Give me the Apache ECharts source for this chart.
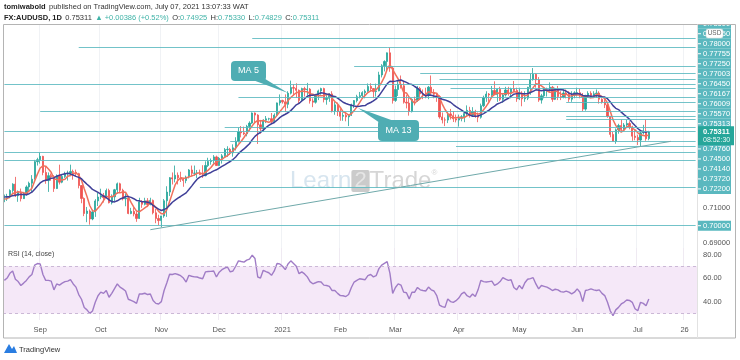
<!DOCTYPE html>
<html><head><meta charset="utf-8">
<script src="https://cdn.jsdelivr.net/npm/echarts@6/dist/echarts.min.js"></script>
<style>html,body{margin:0;padding:0;background:#fff}#c{width:740px;height:360px}</style>
</head><body><div id="c"></div>
<script>
// ---------- DATA ----------
const startDate = '2020-08-13';
const totalBars = 252; // trading days shown incl. empty future space
const warmupCloses = [0.7150,0.7187,0.7163,0.7142,0.7130,0.7149,0.7195,0.7233,0.7160,0.7150,0.7140,0.7148];
// [open, high, low, close]
const candles = [
[0.7155,0.7176,0.7133,0.7160],[0.7160,0.7180,0.7140,0.7166],[0.7166,0.7206,0.7155,0.7199],[0.7199,0.7240,0.7186,0.7235],
[0.7235,0.7276,0.7162,0.7169],[0.7169,0.7199,0.7135,0.7190],[0.7190,0.7210,0.7137,0.7153],[0.7153,0.7191,0.7151,0.7182],
[0.7182,0.7228,0.7170,0.7219],[0.7219,0.7249,0.7191,0.7240],[0.7240,0.7286,0.7191,0.7263],[0.7263,0.7372,0.7262,0.7362],
[0.7362,0.7384,0.7340,0.7373],
[0.7373,0.7414,0.7351,0.7392],[0.7392,0.7395,0.7285,0.7301],[0.7301,0.7332,0.7237,0.7255],[0.7255,0.7301,0.7191,0.7283],
[0.7283,0.7295,0.7254,0.7277],[0.7277,0.7286,0.7191,0.7210],[0.7210,0.7290,0.7208,0.7283],[0.7283,0.7345,0.7233,0.7246],
[0.7246,0.7292,0.7240,0.7278],[0.7278,0.7305,0.7270,0.7293],[0.7293,0.7311,0.7255,0.7298],[0.7298,0.7345,0.7280,0.7306],
[0.7306,0.7317,0.7260,0.7302],[0.7302,0.7317,0.7280,0.7294],[0.7294,0.7299,0.7211,0.7227],[0.7227,0.7230,0.7127,0.7154],
[0.7154,0.7160,0.7054,0.7069],[0.7069,0.7106,0.7020,0.7083],[0.7083,0.7092,0.7006,0.7038],[0.7038,0.7091,0.7031,0.7078],
[0.7078,0.7150,0.7050,0.7140],[0.7140,0.7185,0.7111,0.7162],
[0.7162,0.7209,0.7150,0.7169],[0.7169,0.7185,0.7131,0.7159],[0.7159,0.7210,0.7153,0.7199],[0.7199,0.7209,0.7126,0.7130],
[0.7130,0.7177,0.7120,0.7163],[0.7163,0.7208,0.7137,0.7203],[0.7203,0.7244,0.7180,0.7237],[0.7237,0.7243,0.7187,0.7200],
[0.7200,0.7209,0.7143,0.7152],[0.7152,0.7183,0.7110,0.7156],[0.7156,0.7162,0.7065,0.7069],[0.7069,0.7101,0.7065,0.7081],
[0.7081,0.7105,0.7053,0.7066],[0.7066,0.7081,0.7022,0.7041],[0.7041,0.7158,0.7038,0.7135],[0.7135,0.7145,0.7101,0.7121],
[0.7121,0.7158,0.7115,0.7141],[0.7141,0.7156,0.7105,0.7120],[0.7120,0.7158,0.7115,0.7143],[0.7143,0.7148,0.7064,0.7073],
[0.7073,0.7096,0.7014,0.7041],[0.7041,0.7062,0.7002,0.7029],
[0.7029,0.7056,0.6991,0.7055],[0.7055,0.7151,0.7045,0.7141],[0.7141,0.7223,0.7050,0.7190],[0.7190,0.7275,0.7168,0.7271],
[0.7271,0.7301,0.7233,0.7264],[0.7264,0.7340,0.7245,0.7285],[0.7285,0.7301,0.7233,0.7271],[0.7271,0.7305,0.7247,0.7263],
[0.7263,0.7270,0.7220,0.7255],[0.7255,0.7283,0.7240,0.7275],[0.7275,0.7320,0.7267,0.7315],[0.7315,0.7340,0.7280,0.7296],
[0.7296,0.7340,0.7282,0.7297],[0.7297,0.7315,0.7270,0.7297],[0.7297,0.7317,0.7286,0.7289],[0.7289,0.7342,0.7270,0.7283],
[0.7283,0.7364,0.7279,0.7340],[0.7340,0.7384,0.7332,0.7363],[0.7363,0.7380,0.7345,0.7368],[0.7368,0.7399,0.7350,0.7389],
[0.7389,0.7396,0.7340,0.7340],
[0.7340,0.7388,0.7339,0.7381],[0.7381,0.7405,0.7351,0.7395],[0.7395,0.7439,0.7389,0.7430],[0.7430,0.7449,0.7389,0.7432],
[0.7432,0.7440,0.7400,0.7412],[0.7412,0.7460,0.7390,0.7440],[0.7440,0.7500,0.7425,0.7478],[0.7478,0.7555,0.7470,0.7530],
[0.7530,0.7563,0.7499,0.7525],[0.7525,0.7560,0.7512,0.7519],[0.7519,0.7570,0.7505,0.7561],[0.7561,0.7590,0.7536,0.7580],
[0.7580,0.7640,0.7575,0.7637],[0.7637,0.7640,0.7582,0.7625],[0.7625,0.7630,0.7462,0.7570],[0.7570,0.7598,0.7520,0.7548],
[0.7548,0.7602,0.7530,0.7596],[0.7596,0.7620,0.7580,0.7604],[0.7604,0.7610,0.7595,0.7605],[0.7605,0.7637,0.7575,0.7589],
[0.7589,0.7635,0.7580,0.7625],[0.7625,0.7696,0.7620,0.7694],[0.7694,0.7742,0.7679,0.7708],
[0.7708,0.7712,0.7690,0.7700],[0.7700,0.7742,0.7642,0.7686],[0.7686,0.7760,0.7664,0.7749],[0.7749,0.7820,0.7742,0.7781],
[0.7781,0.7800,0.7735,0.7777],[0.7777,0.7805,0.7722,0.7765],[0.7765,0.7770,0.7693,0.7708],[0.7708,0.7780,0.7705,0.7775],
[0.7775,0.7785,0.7730,0.7768],[0.7768,0.7807,0.7737,0.7772],[0.7772,0.7778,0.7690,0.7705],[0.7705,0.7720,0.7670,0.7698],
[0.7698,0.7745,0.7690,0.7734],[0.7734,0.7769,0.7710,0.7762],[0.7762,0.7780,0.7740,0.7775],[0.7775,0.7780,0.7697,0.7713],
[0.7713,0.7738,0.7684,0.7720],[0.7720,0.7750,0.7700,0.7745],[0.7745,0.7760,0.7640,0.7649],[0.7649,0.7700,0.7627,0.7683],
[0.7683,0.7696,0.7620,0.7645],
[0.7645,0.7660,0.7593,0.7618],[0.7618,0.7640,0.7593,0.7624],[0.7624,0.7640,0.7590,0.7615],[0.7615,0.7628,0.7563,0.7624],
[0.7624,0.7690,0.7620,0.7683],[0.7683,0.7710,0.7665,0.7707],[0.7707,0.7740,0.7697,0.7729],[0.7729,0.7756,0.7719,0.7735],
[0.7735,0.7760,0.7720,0.7752],[0.7752,0.7770,0.7720,0.7760],[0.7760,0.7804,0.7756,0.7787],[0.7787,0.7805,0.7760,0.7775],
[0.7775,0.7778,0.7721,0.7758],[0.7758,0.7803,0.7730,0.7762],[0.7762,0.7870,0.7760,0.7852],[0.7852,0.7913,0.7838,0.7904],
[0.7904,0.7935,0.7872,0.7928],[0.7928,0.7979,0.7880,0.7977],[0.7977,0.8007,0.7870,0.7891],[0.7891,0.7901,0.7690,0.7708],
[0.7708,0.7792,0.7700,0.7770],[0.7770,0.7818,0.7733,0.7800],[0.7800,0.7849,0.7775,0.7791],[0.7791,0.7812,0.7690,0.7698],
[0.7698,0.7740,0.7663,0.7693],[0.7693,0.7726,0.7622,0.7645],[0.7645,0.7720,0.7640,0.7714],[0.7714,0.7730,0.7680,0.7709],
[0.7709,0.7790,0.7700,0.7776],[0.7776,0.7785,0.7710,0.7745],[0.7745,0.7770,0.7715,0.7743],[0.7743,0.7780,0.7720,0.7739],
[0.7739,0.7790,0.7715,0.7783],[0.7783,0.7849,0.7733,0.7751],[0.7751,0.7772,0.7720,0.7743],[0.7743,0.7750,0.7700,0.7730],
[0.7730,0.7738,0.7605,0.7615],[0.7615,0.7640,0.7578,0.7598],[0.7598,0.7612,0.7563,0.7597],[0.7597,0.7640,0.7580,0.7632],
[0.7632,0.7660,0.7600,0.7622],[0.7622,0.7648,0.7586,0.7604],[0.7604,0.7628,0.7584,0.7597],
[0.7597,0.7628,0.7560,0.7607],[0.7607,0.7625,0.7590,0.7616],[0.7616,0.7645,0.7585,0.7634],[0.7634,0.7680,0.7620,0.7652],
[0.7652,0.7672,0.7611,0.7624],[0.7624,0.7670,0.7615,0.7644],[0.7644,0.7655,0.7610,0.7621],[0.7621,0.7640,0.7585,0.7613],
[0.7613,0.7690,0.7605,0.7678],[0.7678,0.7735,0.7670,0.7722],[0.7722,0.7760,0.7700,0.7744],[0.7744,0.7750,0.7700,0.7739],
[0.7739,0.7790,0.7720,0.7764],[0.7764,0.7816,0.7740,0.7741],[0.7741,0.7775,0.7700,0.7771],[0.7771,0.7785,0.7705,0.7714],
[0.7714,0.7750,0.7695,0.7739],[0.7739,0.7785,0.7730,0.7767],[0.7767,0.7785,0.7735,0.7749],[0.7749,0.7780,0.7720,0.7773],
[0.7773,0.7818,0.7760,0.7764],[0.7764,0.7780,0.7700,0.7717],
[0.7717,0.7780,0.7710,0.7750],[0.7750,0.7760,0.7675,0.7717],[0.7717,0.7760,0.7700,0.7721],[0.7721,0.7785,0.7710,0.7782],
[0.7782,0.7860,0.7740,0.7826],[0.7826,0.7891,0.7820,0.7856],[0.7856,0.7860,0.7780,0.7824],[0.7824,0.7840,0.7700,0.7710],
[0.7710,0.7745,0.7690,0.7734],[0.7734,0.7780,0.7720,0.7772],[0.7772,0.7780,0.7730,0.7772],[0.7772,0.7810,0.7750,0.7783],
[0.7783,0.7790,0.7700,0.7714],[0.7714,0.7780,0.7710,0.7774],[0.7774,0.7790,0.7710,0.7730],[0.7730,0.7760,0.7710,0.7726],
[0.7726,0.7770,0.7720,0.7750],[0.7750,0.7770,0.7720,0.7742],[0.7742,0.7760,0.7700,0.7715],[0.7715,0.7760,0.7700,0.7737],
[0.7737,0.7760,0.7720,0.7751],
[0.7751,0.7780,0.7730,0.7752],[0.7752,0.7775,0.7720,0.7736],[0.7736,0.7750,0.7647,0.7659],[0.7659,0.7740,0.7650,0.7736],
[0.7736,0.7760,0.7725,0.7748],[0.7748,0.7760,0.7720,0.7736],[0.7736,0.7760,0.7722,0.7746],[0.7746,0.7770,0.7722,0.7750],
[0.7750,0.7760,0.7690,0.7715],[0.7715,0.7720,0.7690,0.7699],[0.7699,0.7720,0.7665,0.7683],[0.7683,0.7700,0.7610,0.7619],
[0.7619,0.7620,0.7500,0.7516],[0.7516,0.7530,0.7477,0.7477],[0.7477,0.7550,0.7463,0.7542],[0.7542,0.7576,0.7520,0.7566],
[0.7566,0.7600,0.7530,0.7544],[0.7544,0.7580,0.7540,0.7569],[0.7569,0.7598,0.7560,0.7578],[0.7578,0.7590,0.7545,0.7558],
[0.7558,0.7565,0.7480,0.7506],[0.7506,0.7540,0.7483,0.7499],
[0.7499,0.7515,0.7456,0.7484],[0.7484,0.7530,0.7445,0.7525],[0.7525,0.7570,0.7515,0.7535],[0.7535,0.7599,0.7480,0.7492],
[0.74925,0.75330,0.74829,0.75311]
];
const rsiValues = [
58,60,64,66,59,57,53.7,55.7,58,61,63,71,72.3,
72,63,58,58,57.4,50,55,54,55.7,57,57.4,58.6,55,52.3,46,42,35,33,30,32,39.4,45,
48,47,49.4,43.7,47,51,55,52.3,50.8,49,42,41,40,38.5,46.5,46.5,47.1,46,46.5,41,38.5,38,
40,49.4,56,63.2,63,63.7,63,62,60,56.6,62.3,61.5,61,60.9,60,59.4,65.2,65.5,65.7,66,60.9,
65,67.1,68.5,69.4,65.2,66,70,74.6,74,73.5,75.2,76,79.4,76.6,60.9,60,66.6,65.5,64.5,62.3,66,72.3,72,
70,67.1,72,74.6,72.3,70,63.7,65.2,63.5,61,57,55.1,56,57,56.6,54,53.7,53,49.4,49.4,47,
45.1,45,44.3,46,52,56.6,58,59.4,59,58.6,62,63,61,62,68,71,72.5,74,64,47,
52,55,54,48,47.5,42.3,48,48,52,50,49.4,49,52.3,50,49,45.1,37,35.7,35.1,42.3,40,39.4,40.8,
43,46.5,48,45,43.7,46.5,44.3,50,58,57,56.6,57,57.4,53.7,55,57,60.3,59,58,58.6,52,50,
53.7,50.8,56,59,59.5,60.3,55,50.8,53.7,53,52.3,51,49.4,50.5,50,48.5,48,48.9,48,46.5,48,
50.8,48,40,49.4,50,50.8,50,49.4,50,47,45.1,39.4,32.2,28,33,35.1,38,39.4,41.4,41,39.4,34,
32.2,39.4,38.5,36.5,42.3
];
// horizontal levels: [price, first date]
const levelLines = [
[0.80600,'2020-12-17'],[0.80070,'2020-09-21'],[0.79000,'2021-02-08'],[0.78600,'2021-03-12'],
[0.78250,'2021-03-23'],[0.78000,'2020-08-13'],[0.77755,'2021-03-29'],[0.77250,'2020-12-10'],
[0.77003,'2021-05-26'],[0.76450,'2020-09-01'],[0.76167,'2021-05-26'],[0.76009,'2021-05-26'],
[0.75570,'2020-12-03'],[0.75313,'2020-08-13'],[0.74760,'2020-12-07'],[0.74500,'2021-03-31'],
[0.74140,'2020-08-13'],[0.73720,'2020-08-13'],[0.72200,'2020-11-20'],[0.70000,'2020-08-13']
];
const trendLine = [['2020-10-27',0.69774],['2021-07-19',0.74768]];
const priceTicks = [0.69,0.71];
const rsiTicks = [40,60,80];
const monthNames = ['Jan','Feb','Mar','Apr','May','Jun','Jul','Aug','Sep','Oct','Nov','Dec'];
const extraTickDates = {'2021-07-26':'26'};
const countdown = '08:52:30';

// ---------- BUILD ----------
const dates = [];
{ let d = new Date(startDate+'T00:00:00Z');
  while (dates.length < totalBars) { const w=d.getUTCDay(); if (w!==0 && w!==6) dates.push(d.toISOString().slice(0,10)); d.setUTCDate(d.getUTCDate()+1); } }
const tickSet = new Set();
dates.forEach((v,i)=>{ if (i>0 && v.slice(0,7)!==dates[i-1].slice(0,7)) tickSet.add(v); if (extraTickDates[v]) tickSet.add(v); });
const tickFn = (idx, v) => tickSet.has(v);
const fmtDate = v => { if (extraTickDates[v]) return extraTickDates[v]; const m=+v.slice(5,7); return m===1 ? v.slice(0,4) : monthNames[m-1]; };

const allCloses = warmupCloses.concat(candles.map(c=>c[3]));
function sma(n){ return candles.map((_,i)=>{ const j=i+warmupCloses.length; let s=0; for(let k=j-n+1;k<=j;k++) s+=allCloses[k]; return +(s/n).toFixed(5); }); }
const lastClose = candles[candles.length-1][3];
const teal = '#5ab8bf';
const FONT = 'Liberation Sans, Arial, sans-serif';

const chart = echarts.init(document.getElementById('c'), null, {renderer:'canvas'});
const lastDate = dates[dates.length-1];

const option = {
  animation:false,
  backgroundColor:'#fff',
  grid:[{left:3,right:43,top:24,height:224},{left:3,right:43,top:248,height:72}],
  xAxis:[
    {type:'category',gridIndex:0,data:dates,boundaryGap:true,axisLine:{show:false},axisTick:{show:false},axisLabel:{show:false},
     splitLine:{show:true,interval:tickFn,lineStyle:{color:'#f0f2f5',width:1}}},
    {type:'category',gridIndex:1,data:dates,boundaryGap:true,axisLine:{show:false},axisTick:{show:false},
     axisLabel:{interval:tickFn,formatter:fmtDate,color:'#555',fontSize:7.5,fontFamily:FONT,margin:6},
     splitLine:{show:true,interval:tickFn,lineStyle:{color:'#efeaf2',width:1}}}
  ],
  yAxis:[
    {type:'value',gridIndex:0,position:'right',min:0.6874,max:0.8140,scale:true,axisLine:{show:false},axisTick:{show:false},splitLine:{show:false},
     axisLabel:{customValues:priceTicks,formatter:v=>v.toFixed(5),color:'#555',fontSize:7.5,fontFamily:FONT,margin:6}},
    {type:'value',gridIndex:1,position:'right',min:24.4,max:85.5,axisLine:{show:false},axisTick:{show:false},splitLine:{show:false},
     axisLabel:{customValues:rsiTicks,formatter:v=>v.toFixed(2),color:'#555',fontSize:7.5,fontFamily:FONT,margin:6}}
  ],
  series:[
    {type:'candlestick',xAxisIndex:0,yAxisIndex:0,barWidth:'62%',
     data:candles.map(c=>[c[0],c[3],c[2],c[1]]),
     itemStyle:{color:'#26a69a',color0:'#ef5350',borderColor:'#26a69a',borderColor0:'#ef5350',borderWidth:0.8},
     markLine:{silent:true,symbol:['none','none'],animation:false,label:{show:false},
       data:levelLines.map(l=>[{coord:[l[1],l[0]],lineStyle:{color:teal,width:1,type:'solid',opacity:0.85}},{coord:[lastDate,l[0]]}])
         .concat([[{coord:trendLine[0],lineStyle:{color:'#6fa9aa',width:1,type:'solid'}},{coord:trendLine[1]}]])}
    },
    {type:'line',name:'MA 5',xAxisIndex:0,yAxisIndex:0,data:sma(5),showSymbol:false,symbol:'none',lineStyle:{color:'#f0705c',width:1.5},z:3},
    {type:'line',name:'MA 13',xAxisIndex:0,yAxisIndex:0,data:sma(13),showSymbol:false,symbol:'none',lineStyle:{color:'#3f3f98',width:1.5},z:3},
    {type:'line',name:'RSI',xAxisIndex:1,yAxisIndex:1,data:rsiValues,showSymbol:false,symbol:'none',lineStyle:{color:'#a07cc6',width:1.4},z:3,
     markArea:{silent:true,itemStyle:{color:'#f5e8f8'},data:[[{yAxis:30},{yAxis:70}]]},
     markLine:{silent:true,symbol:['none','none'],label:{show:false},lineStyle:{color:'#cbb8d6',type:[3,3],width:1},data:[{yAxis:70},{yAxis:30}]}}
  ]
};
chart.setOption(option);

// ---------- price-scale labels (stacked like TradingView) ----------
const py = p => chart.convertToPixel({yAxisIndex:0}, p);
const y0 = py(lastClose);
const els = [];
const above = levelLines.filter(l=>l[0]>lastClose).sort((a,b)=>a[0]-b[0]);
const below = levelLines.filter(l=>l[0]<lastClose).sort((a,b)=>b[0]-a[0]);
const labelPos = [];
let prev = y0 + 2;
above.forEach(l=>{ const y=Math.min(py(l[0]), prev-10); labelPos.push([l[0],y]); prev=y; });
prev = y0 + 7.2;
below.forEach(l=>{ const y=Math.max(py(l[0]), prev+10); labelPos.push([l[0],y]); prev=y; });
labelPos.forEach(([p,y])=>{
  els.push({type:'rect',z:100,shape:{x:698,y:y-5,width:33,height:10},style:{fill:teal}});
  els.push({type:'line',z:101,shape:{x1:698,y1:y,x2:701,y2:y},style:{stroke:'#ffffff',lineWidth:1}});
  els.push({type:'text',z:101,x:703,y:y,style:{text:p.toFixed(5),fill:'#ffffff',font:'7.5px '+FONT,verticalAlign:'middle',align:'left'}});
});
// current price badge
els.push({type:'rect',z:102,shape:{x:698,y:y0-5.5,width:36,height:19},style:{fill:'#26a69a'}});
els.push({type:'text',z:103,x:703,y:y0,style:{text:lastClose.toFixed(5),fill:'#fff',font:'bold 7.5px '+FONT,verticalAlign:'middle'}});
els.push({type:'text',z:103,x:703,y:y0+8.5,style:{text:countdown,fill:'#e8f7f5',font:'7px '+FONT,verticalAlign:'middle'}});
// USD badge
els.push({type:'rect',z:104,shape:{x:706,y:29,width:17,height:9,r:2},style:{fill:'#fff',stroke:'#d8d8d8',lineWidth:0.5}});
els.push({type:'text',z:105,x:714.5,y:33.5,style:{text:'USD',fill:'#666',font:'6.5px '+FONT,align:'center',verticalAlign:'middle'}});
// clip area above pane
els.push({type:'rect',z:110,shape:{x:690,y:0,width:50,height:24},style:{fill:'#fff'}});
// frame
els.push({type:'rect',z:120,shape:{x:3.5,y:24.5,width:732,height:313.5},style:{fill:'none',stroke:'#b4b4b4',lineWidth:1}});
els.push({type:'line',z:120,shape:{x1:697.5,y1:24.5,x2:697.5,y2:338},style:{stroke:'#e2e2e2',lineWidth:1}});
// header
els.push({type:'text',z:121,x:4,y:7,style:{text:'{b|tomiwabold} {n|published on TradingView.com, July 07, 2021 13:07:33 WAT}',verticalAlign:'middle',
  rich:{b:{fontWeight:'bold',fontSize:7.5,fontFamily:FONT,fill:'#222'},n:{fontSize:7.5,fontFamily:FONT,fill:'#333'}}}});
els.push({type:'text',z:121,x:4,y:18,style:{text:'{b|FX:AUDUSD, 1D} {n|0.75311} {g|▲ +0.00386 (+0.52%)} {n|O:}{g|0.74925} {n|H:}{g|0.75330} {n|L:}{g|0.74829} {n|C:}{g|0.75311}',verticalAlign:'middle',
  rich:{b:{fontWeight:'bold',fontSize:7.5,fontFamily:FONT,fill:'#222'},n:{fontSize:7.5,fontFamily:FONT,fill:'#333'},g:{fontSize:7.5,fontFamily:FONT,fill:'#3fb3a7'}}}});
// RSI title
els.push({type:'text',z:121,x:8,y:254,style:{text:'RSI (14, close)',fill:'#444',font:'7px '+FONT,verticalAlign:'middle'}});
// watermark
els.push({type:'text',z:1,x:290,y:181,style:{text:'{a|Learn}{b|2}{c|Trade}{d|®}',verticalAlign:'middle',opacity:0.75,
  rich:{a:{fontSize:24,fontFamily:FONT,fill:'#c9dcea'},b:{fontSize:22,fontFamily:FONT,fill:'#eeeeee',backgroundColor:'#b9b9b9',padding:[0,3,0,3],borderRadius:2},
        c:{fontSize:24,fontFamily:FONT,fill:'#c8c8c8'},d:{fontSize:8,fontFamily:FONT,fill:'#c8c8c8',verticalAlign:'top'}}}});
// callouts
els.push({type:'polygon',z:130,shape:{points:[[250,79],[262,77],[288,93]]},style:{fill:'#4fadb3'}});
els.push({type:'rect',z:131,shape:{x:231,y:61,width:35,height:20,r:4},style:{fill:'#4fadb3'}});
els.push({type:'text',z:132,x:248.5,y:71,style:{text:'MA 5',fill:'#fff',font:'9px '+FONT,align:'center',verticalAlign:'middle'}});
els.push({type:'polygon',z:130,shape:{points:[[380,123],[394,121],[358,108]]},style:{fill:'#4fadb3'}});
els.push({type:'rect',z:131,shape:{x:378,y:120,width:41,height:21,r:4},style:{fill:'#4fadb3'}});
els.push({type:'text',z:132,x:398.5,y:130.5,style:{text:'MA 13',fill:'#fff',font:'9px '+FONT,align:'center',verticalAlign:'middle'}});
// footer logo
els.push({type:'polygon',z:121,shape:{points:[[4,353],[9,344],[12,349],[14,346],[17,353]]},style:{fill:'#2a7de1'}});
els.push({type:'text',z:121,x:19,y:349.5,style:{text:'TradingView',fill:'#333',font:'7.5px '+FONT,verticalAlign:'middle'}});

chart.setOption({graphic:{elements:els}});
</script></body></html>
